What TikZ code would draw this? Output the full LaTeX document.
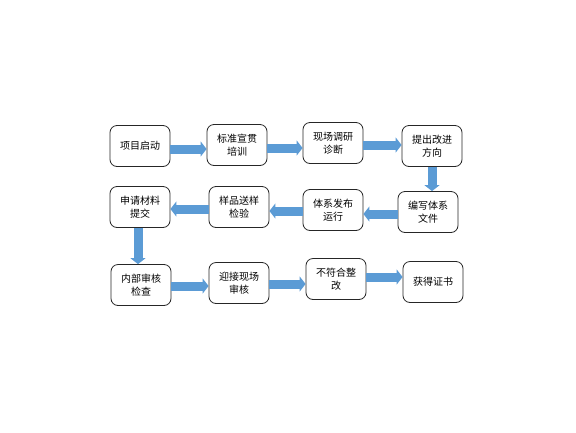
\documentclass[tikz,border=0pt]{standalone}
\usepackage{fontspec}
\newfontfamily\cjk{Noto Sans CJK SC}
\usetikzlibrary{arrows.meta}
\definecolor{arrowblue}{RGB}{91,155,213}
\tikzset{
  box/.style={draw=black!85, line width=0.8pt, rounded corners=7pt, minimum width=60pt, minimum height=41pt, align=center, font=\cjk\fontsize{10pt}{13pt}\selectfont, inner sep=2pt},
  bigarrow/.style={draw=arrowblue, line width=9pt, -{Triangle[width=15pt,length=6pt]}, shorten >=0pt}
}
\begin{document}
\begin{tikzpicture}[x=1pt,y=-1pt]
\useasboundingbox[fill=white] (0,0) rectangle (576,432);
% row 1
\node[box] (b1) at (140,146) {项目启动};
\node[box] (b2) at (237,145) {标准宣贯\\培训};
\node[box] (b3) at (333,143) {现场调研\\诊断};
\node[box] (b4) at (432,146) {提出改进\\方向};
% row 2
\node[box] (b5) at (140,207) {申请材料\\提交};
\node[box] (b6) at (239,207) {样品送样\\检验};
\node[box] (b7) at (333,210) {体系发布\\运行};
\node[box] (b8) at (428,212) {编写体系\\文件};
% row 3
\node[box] (b9) at (141,285) {内部审核\\检查};
\node[box] (b10) at (239,283) {迎接现场\\审核};
\node[box] (b11) at (336,279) {不符合整\\改};
\node[box] (b12) at (433,282) {获得证书};
% arrows
\coordinate (a1) at ([yshift=-3pt]b1.east);
\draw[bigarrow] (a1) -- (a1 -| b2.west);
\coordinate (a2) at ([yshift=-3pt]b2.east);
\draw[bigarrow] (a2) -- (a2 -| b3.west);
\coordinate (a3) at ([yshift=-2pt]b3.east);
\draw[bigarrow] (a3) -- (a3 -| b4.west);
\coordinate (a4) at (b4.south);
\draw[bigarrow] (a4) -- (a4 |- b8.north);
\coordinate (a5) at ([yshift=-2pt]b8.west);
\draw[bigarrow] (a5) -- (a5 -| b7.east);
\coordinate (a6) at ([yshift=-1pt]b7.west);
\draw[bigarrow] (a6) -- (a6 -| b6.east);
\coordinate (a7) at ([yshift=-2pt]b6.west);
\draw[bigarrow] (a7) -- (a7 -| b5.east);
\coordinate (a8) at ([xshift=-2pt]b5.south);
\draw[bigarrow] (a8) -- (a8 |- b9.north);
\coordinate (a9) at ([yshift=-1pt]b9.east);
\draw[bigarrow] (a9) -- (a9 -| b10.west);
\coordinate (a10) at ([yshift=-1pt]b10.east);
\draw[bigarrow] (a10) -- (a10 -| b11.west);
\coordinate (a11) at ([yshift=2pt]b11.east);
\draw[bigarrow] (a11) -- (a11 -| b12.west);
\end{tikzpicture}
\end{document}
